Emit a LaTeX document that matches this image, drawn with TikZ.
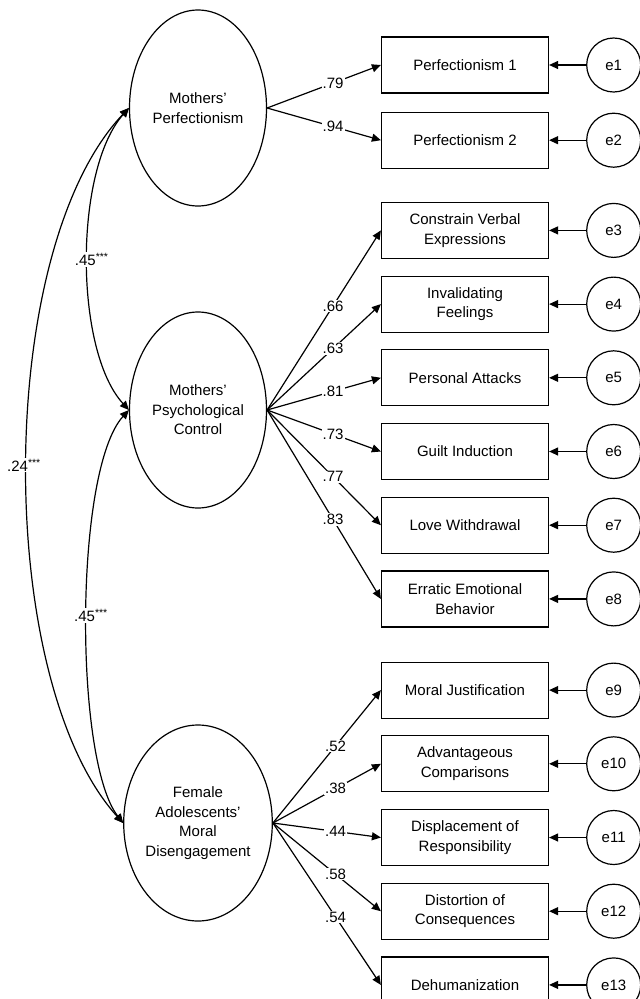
\documentclass[tikz,border=0pt]{standalone}
\usepackage{fontspec}
\setmainfont{Liberation Sans}
\usetikzlibrary{
  positioning,
  shapes.geometric,
  arrows.meta,
}
\tikzset{
  x=1pt, y=1pt,
  node distance=16.5pt and 37pt,
  >={Triangle[length=9pt,width=8pt]},
  txt/.style={
    font=\fontsize{15}{19.5}\selectfont,
    align=center,
  },
  latent/.style={
    txt,
    ellipse,
    draw,
    minimum width=137pt,
    minimum height=196pt,
    inner sep=0pt,
  },
  indicator/.style={
    txt,
    rectangle,
    draw,
    minimum width=167pt,
    minimum height=56pt,
    inner sep=2pt,
  },
  residual/.style={
    txt,
    circle,
    draw,
    minimum size=54pt,
    inner sep=0pt,
  },
  coef/.style={
    txt,
    fill=white,
    inner sep=1pt,
  },
  sig/.style={
    coef,
    pos=0.5,
  },
}

\begin{document}
\begin{tikzpicture}[line width=1.2pt]
  \useasboundingbox (0,0) rectangle (640,-999);

  % latent factors
  \node[latent] (perf)  at (198,-108) {Mothers’\\Perfectionism};
  \node[latent] (psych) at (198,-410) {Mothers’\\Psychological\\Control};
  \node[latent] (fmd)   at (198,-823) {Female\\Adolescents’\\Moral\\Disengagement};

  % indicators
  \node[indicator] (pf1) at (465,-65) {Perfectionism 1};
  \node[indicator, below=18pt of pf1] (pf2) {Perfectionism 2};
  \node[indicator, below=33pt of pf2] (cve) {Constrain Verbal\\Expressions};
  \node[indicator, below=of cve] (ivf) {Invalidating\\Feelings};
  \node[indicator, below=of ivf] (pat) {Personal Attacks};
  \node[indicator, below=of pat] (gin) {Guilt Induction};
  \node[indicator, below=of gin] (lwd) {Love Withdrawal};
  \node[indicator, below=of lwd] (eeb) {Erratic Emotional\\Behavior};
  \node[indicator, below=34pt of eeb] (mjs) {Moral Justification};
  \node[indicator, below=of mjs] (adc) {Advantageous\\Comparisons};
  \node[indicator, below=of adc] (dsr) {Displacement of\\Responsibility};
  \node[indicator, below=of dsr] (dsc) {Distortion of\\Consequences};
  \node[indicator, below=of dsc] (dhm) {Dehumanization};

  % residuals
  \foreach \i/\b in {1/pf1, 2/pf2, 3/cve, 4/ivf, 5/pat, 6/gin, 7/lwd,
                     8/eeb, 9/mjs, 10/adc, 11/dsr, 12/dsc, 13/dhm} {
    \node[residual, right=of \b] (e\i) {e\i};
    \draw[->] (e\i) -- (\b);
  }

  % loadings
  \foreach \b/\v in {pf1/.79, pf2/.94}
    \draw[->] (perf.east) -- node[coef, pos=.58] {\v} (\b.west);
  \foreach \b/\v in {cve/.66, ivf/.63, pat/.81, gin/.73, lwd/.77, eeb/.83}
    \draw[->] (psych.east) -- node[coef, pos=.58] {\v} (\b.west);
  \foreach \b/\v in {mjs/.52, adc/.38, dsr/.44, dsc/.58, dhm/.54}
    \draw[->] (fmd.east) -- node[coef, pos=.58] {\v} (\b.west);

  % covariances
  \draw[<->] (perf.west) .. controls (74,-170) and (74,-350) ..
    node[sig, xshift=4pt] {.45\textsuperscript{***}} (psych.west);
  \draw[<->] (psych.west) .. controls (74,-470) and (74,-760) ..
    node[sig, xshift=4pt] {.45\textsuperscript{***}} (fmd.west);
  \draw[<->] (perf.west) .. controls (-6,-250) and (-6,-680) ..
    node[sig, xshift=-3pt] {.24\textsuperscript{***}} (fmd.west);
\end{tikzpicture}
\end{document}
